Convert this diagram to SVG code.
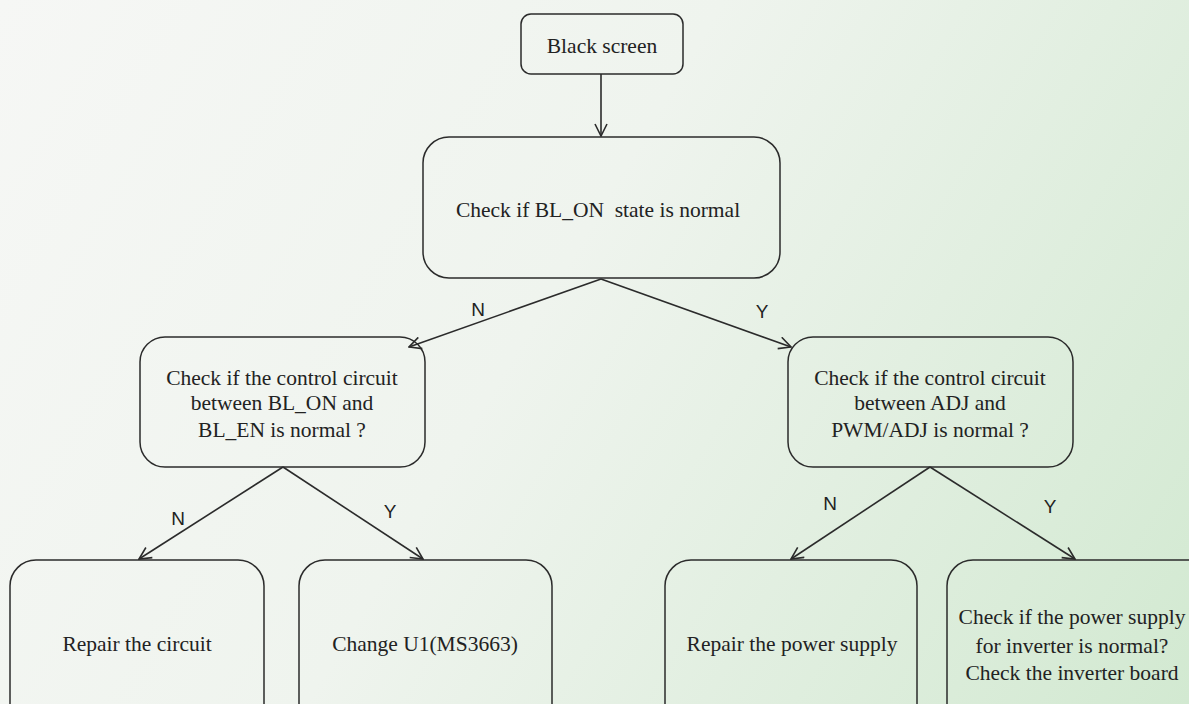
<svg xmlns="http://www.w3.org/2000/svg" width="1189" height="704" viewBox="0 0 1189 704">
<defs>
<linearGradient id="bg" gradientUnits="userSpaceOnUse" x1="0" y1="0" x2="1189" y2="704">
<stop offset="0" stop-color="#f6f7f5"/>
<stop offset="0.45" stop-color="#eff4ee"/>
<stop offset="1" stop-color="#d2e9d1"/>
</linearGradient>
<marker id="arr" viewBox="0 0 14 14" refX="13" refY="7" markerWidth="14" markerHeight="14" markerUnits="userSpaceOnUse" orient="auto">
<path d="M1,1 L13,7 L1,13" fill="none" stroke="#2b2b2b" stroke-width="1.6"/>
</marker>
<style>
.box{fill:none;stroke:#2b2b2b;stroke-width:1.5}
.t{font-family:"Liberation Serif","Times New Roman",serif;font-size:21.5px;fill:#222;text-anchor:middle}
.lbl{font-family:"Liberation Sans",Arial,sans-serif;font-size:19px;fill:#222;text-anchor:middle}
.c{fill:none;stroke:#2b2b2b;stroke-width:1.6;marker-end:url(#arr)}
</style>
</defs>
<rect width="1189" height="704" fill="url(#bg)"/>
<g id="n_black">
<rect class="box" x="521" y="14" width="162" height="60" rx="10"/>
<text class="t" x="602" y="53">Black screen</text>
</g>
<g id="n_blon">
<rect class="box" x="423" y="137" width="357" height="141" rx="26"/>
<text class="t" x="598" y="217" xml:space="preserve">Check if BL_ON  state is normal</text>
</g>
<g id="n_left">
<rect class="box" x="140" y="337" width="285" height="130" rx="25"/>
<text class="t" x="282" y="385">Check if the control circuit</text>
<text class="t" x="282" y="410">between BL_ON and</text>
<text class="t" x="282" y="437">BL_EN is normal ?</text>
</g>
<g id="n_right">
<rect class="box" x="788" y="337" width="285" height="130" rx="25"/>
<text class="t" x="930" y="385">Check if the control circuit</text>
<text class="t" x="930" y="410">between ADJ and</text>
<text class="t" x="930" y="437">PWM/ADJ is normal ?</text>
</g>
<g id="n_repair">
<rect class="box" x="10" y="560" width="254" height="170" rx="26"/>
<text class="t" x="137" y="651">Repair the circuit</text>
</g>
<g id="n_change">
<rect class="box" x="299" y="560" width="253" height="170" rx="26"/>
<text class="t" x="425" y="651">Change U1(MS3663)</text>
</g>
<g id="n_power">
<rect class="box" x="665" y="560" width="252" height="170" rx="26"/>
<text class="t" x="792" y="651">Repair the power supply</text>
</g>
<g id="n_inverter">
<rect class="box" x="947" y="560" width="270" height="170" rx="26"/>
<text class="t" x="1072" y="624">Check if the power supply</text>
<text class="t" x="1072" y="653">for inverter is normal?</text>
<text class="t" x="1072" y="680">Check the inverter board</text>
</g>
<g id="connectors">
<path class="c" d="M601,74 L601,136"/>
<path class="c" d="M601,279 L409,347"/>
<path class="c" d="M601,279 L791,347"/>
<path class="c" d="M283,467 L139,559"/>
<path class="c" d="M283,467 L423,559"/>
<path class="c" d="M930,467 L791,559"/>
<path class="c" d="M930,467 L1075,559"/>
<text class="lbl" x="478" y="316">N</text>
<text class="lbl" x="762" y="318">Y</text>
<text class="lbl" x="178" y="525">N</text>
<text class="lbl" x="390" y="518">Y</text>
<text class="lbl" x="830" y="510">N</text>
<text class="lbl" x="1050" y="513">Y</text>
</g>
</svg>
